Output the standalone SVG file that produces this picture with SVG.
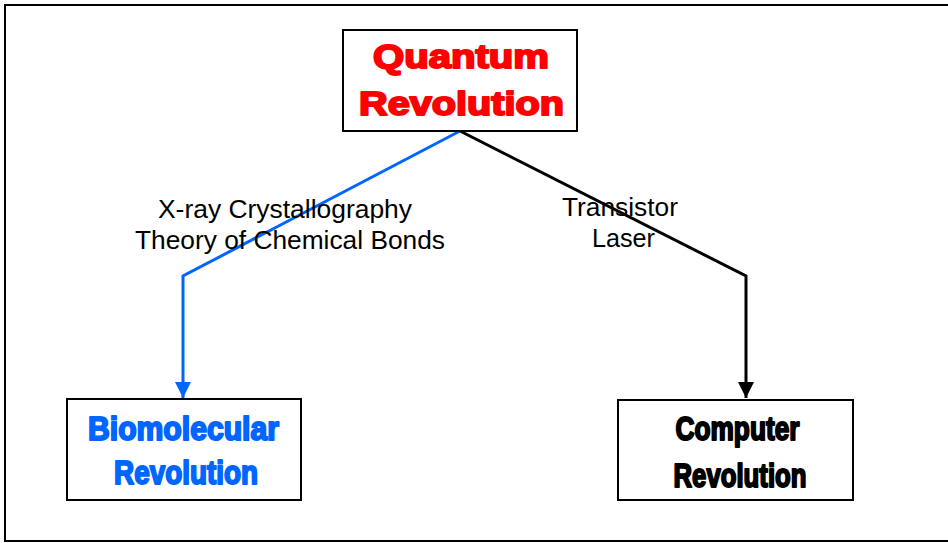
<svg xmlns="http://www.w3.org/2000/svg" width="948" height="543" viewBox="0 0 948 543">
<style>
.box{fill:#fff;stroke:#000;stroke-width:2}
.title{font-family:"Liberation Sans",Arial,sans-serif;font-weight:bold;font-size:33px;text-anchor:middle;stroke-width:2;stroke-linejoin:round}
.lbl{font-family:"Liberation Sans",Arial,sans-serif;font-size:25px;fill:#000;text-anchor:middle}
.conn{fill:none;stroke-width:3}
</style>
<defs>
<marker id="ab" markerUnits="userSpaceOnUse" markerWidth="18" markerHeight="16" refX="16" refY="8" orient="auto" viewBox="0 0 16 16"><path d="M0,0 L16,8 L0,16 Z" fill="#0066ff"/></marker>
<marker id="ak" markerUnits="userSpaceOnUse" markerWidth="18" markerHeight="16" refX="16" refY="8" orient="auto" viewBox="0 0 16 16"><path d="M0,0 L16,8 L0,16 Z" fill="#000"/></marker>
</defs>
<rect x="0" y="0" width="948" height="543" fill="#fff"/>
<rect x="5" y="5" width="950" height="536" fill="none" stroke="#000" stroke-width="2"/>
<g id="connectors">
<path class="conn" d="M460,131 L183,276 L183,398" stroke="#0066ff" marker-end="url(#ab)"/>
<path class="conn" d="M460,131 L746,276 L746,398" stroke="#000" marker-end="url(#ak)"/>
<text class="lbl" x="285" y="218" textLength="254" lengthAdjust="spacingAndGlyphs">X-ray Crystallography</text>
<text class="lbl" x="290" y="249" textLength="310" lengthAdjust="spacingAndGlyphs">Theory of Chemical Bonds</text>
<text class="lbl" x="620" y="216" textLength="116" lengthAdjust="spacingAndGlyphs">Transistor</text>
<text class="lbl" x="623.5" y="247" textLength="63" lengthAdjust="spacingAndGlyphs">Laser</text>
</g>
<g id="quantum">
<rect class="box" x="343" y="30" width="234" height="101"/>
<text class="title" x="461" y="68" fill="#ff0000" stroke="#ff0000" textLength="176" lengthAdjust="spacingAndGlyphs">Quantum</text>
<text class="title" x="461.5" y="115" fill="#ff0000" stroke="#ff0000" textLength="205" lengthAdjust="spacingAndGlyphs">Revolution</text>
</g>
<g id="biomolecular">
<rect class="box" x="67" y="399" width="234" height="101"/>
<text class="title" x="183.5" y="440" fill="#0066ff" stroke="#0066ff" textLength="191" lengthAdjust="spacingAndGlyphs">Biomolecular</text>
<text class="title" x="186" y="484" fill="#0066ff" stroke="#0066ff" textLength="144" lengthAdjust="spacingAndGlyphs">Revolution</text>
</g>
<g id="computer">
<rect class="box" x="618" y="400" width="235" height="100"/>
<text class="title" x="737.5" y="440" fill="#000" stroke="#000" textLength="124" lengthAdjust="spacingAndGlyphs">Computer</text>
<text class="title" x="740" y="487" fill="#000" stroke="#000" textLength="133" lengthAdjust="spacingAndGlyphs">Revolution</text>
</g>
</svg>
